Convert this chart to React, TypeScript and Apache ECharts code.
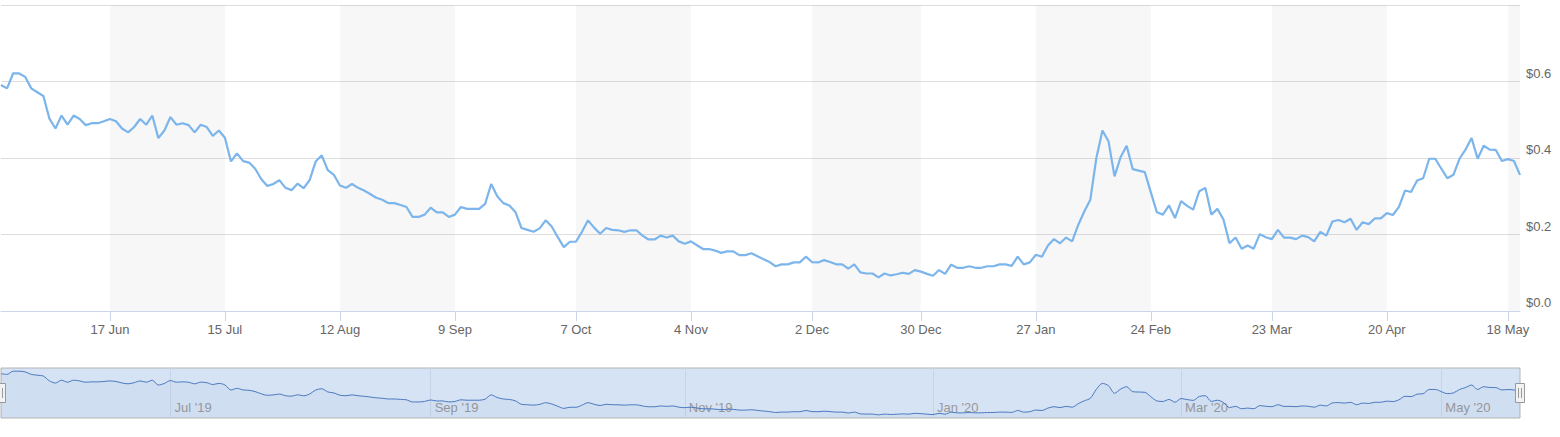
import React, { useEffect, useRef } from "react";
import * as echarts from "echarts";

// ---- data ----
const startDate = "2019-05-21";
const endDate = "2020-05-20";
// weekdays without a data point
const missingDays = [
  "2019-05-27", "2019-07-04", "2019-07-26", "2019-09-02", "2019-10-14",
  "2019-12-24", "2019-12-25", "2020-01-01", "2020-02-17", "2020-04-10",
];

const prices = [
  0.591, 0.582, 0.621, 0.621, 0.612, 0.582, 0.572, 0.562, 0.503, 0.477,
  0.511, 0.487, 0.511, 0.502, 0.486, 0.491, 0.491, 0.496, 0.502, 0.496,
  0.477, 0.467, 0.481, 0.502, 0.487, 0.511, 0.452, 0.472, 0.507, 0.487,
  0.491, 0.486, 0.467, 0.487, 0.481, 0.458, 0.472, 0.453, 0.391, 0.412,
  0.392, 0.388, 0.372, 0.345, 0.327, 0.332, 0.342, 0.322, 0.316, 0.333,
  0.321, 0.342, 0.391, 0.407, 0.368, 0.356, 0.328, 0.322, 0.332, 0.322,
  0.315, 0.306, 0.296, 0.291, 0.282, 0.282, 0.277, 0.272, 0.246, 0.246,
  0.252, 0.270, 0.258, 0.258, 0.246, 0.252, 0.272, 0.267, 0.267, 0.267,
  0.280, 0.332, 0.300, 0.282, 0.276, 0.259, 0.217, 0.212, 0.207, 0.216,
  0.237, 0.221, 0.193, 0.167, 0.181, 0.181, 0.207, 0.237, 0.218, 0.202,
  0.217, 0.212, 0.211, 0.207, 0.211, 0.211, 0.197, 0.187, 0.187, 0.197,
  0.192, 0.197, 0.182, 0.176, 0.182, 0.172, 0.162, 0.162, 0.158, 0.152,
  0.156, 0.156, 0.146, 0.146, 0.151, 0.143, 0.135, 0.128, 0.117, 0.122,
  0.122, 0.127, 0.127, 0.142, 0.128, 0.127, 0.133, 0.128, 0.122, 0.122,
  0.111, 0.122, 0.101, 0.098, 0.098, 0.088, 0.098, 0.093, 0.096, 0.100,
  0.097, 0.107, 0.103, 0.097, 0.092, 0.107, 0.097, 0.121, 0.113, 0.113,
  0.117, 0.113, 0.113, 0.117, 0.117, 0.122, 0.122, 0.118, 0.142, 0.122,
  0.127, 0.147, 0.142, 0.171, 0.188, 0.177, 0.192, 0.182, 0.225, 0.260,
  0.291, 0.400, 0.472, 0.444, 0.352, 0.402, 0.432, 0.371, 0.367, 0.363,
  0.310, 0.258, 0.252, 0.276, 0.243, 0.287, 0.275, 0.265, 0.313, 0.322,
  0.252, 0.267, 0.239, 0.177, 0.192, 0.163, 0.171, 0.163, 0.201, 0.193,
  0.188, 0.212, 0.192, 0.192, 0.188, 0.197, 0.193, 0.182, 0.207, 0.197,
  0.234, 0.238, 0.232, 0.241, 0.212, 0.232, 0.227, 0.242, 0.242, 0.256,
  0.251, 0.272, 0.315, 0.311, 0.341, 0.347, 0.398, 0.398, 0.372, 0.347,
  0.356, 0.398, 0.422, 0.452, 0.398, 0.432, 0.422, 0.421, 0.392, 0.397,
  0.392, 0.356,
];

const mainTickDates = [
  "2019-06-17", "2019-07-15", "2019-08-12", "2019-09-09", "2019-10-07",
  "2019-11-04", "2019-12-02", "2019-12-30", "2020-01-27", "2020-02-24",
  "2020-03-23", "2020-04-20", "2020-05-18",
];

const shadedBands = [
  ["2019-06-17", "2019-07-15"],
  ["2019-08-12", "2019-09-09"],
  ["2019-10-07", "2019-11-04"],
  ["2019-12-02", "2019-12-30"],
  ["2020-01-27", "2020-02-24"],
  ["2020-03-23", "2020-04-20"],
  ["2020-05-18", "2020-05-20"],
];

const navTickDates = [
  "2019-07-01", "2019-09-03", "2019-11-01", "2020-01-02", "2020-03-02", "2020-05-01",
];

const yMin = 0;
const yMax = 0.8;
const yStep = 0.2;

const MONTHS = ["Jan", "Feb", "Mar", "Apr", "May", "Jun", "Jul", "Aug", "Sep", "Oct", "Nov", "Dec"];
const FONT = '"Liberation Sans", Arial, Helvetica, sans-serif';

function tradingDays(): string[] {
  const out: string[] = [];
  const d = new Date(startDate + "T00:00:00Z");
  const end = new Date(endDate + "T00:00:00Z");
  while (d.getTime() <= end.getTime()) {
    const dow = d.getUTCDay();
    const s = d.toISOString().slice(0, 10);
    if (dow !== 0 && dow !== 6 && missingDays.indexOf(s) < 0) out.push(s);
    d.setUTCDate(d.getUTCDate() + 1);
  }
  return out;
}

export default function App() {
  const ref = useRef<HTMLDivElement>(null);

  useEffect(() => {
    if (!ref.current) return;
    const chart = echarts.init(ref.current, null, { renderer: "svg" });
    const dates = tradingDays();
    const mainSet = new Set(mainTickDates);
    const navSet = new Set(navTickDates);

    const fmtMain = (v: string) => `${parseInt(v.slice(8), 10)} ${MONTHS[parseInt(v.slice(5, 7), 10) - 1]}`;
    const fmtNav = (v: string) => `${MONTHS[parseInt(v.slice(5, 7), 10) - 1]} '${v.slice(2, 4)}`;

    const handle = (cx: number) => [
      {
        type: "rect",
        shape: { x: cx - 4.5, y: 383.5, width: 9, height: 19 },
        style: { fill: "#f2f2f2", stroke: "#999999", lineWidth: 1 },
        z: 100,
      },
      {
        type: "line",
        shape: { x1: cx - 1.5, y1: 388, x2: cx - 1.5, y2: 398 },
        style: { stroke: "#999999", lineWidth: 1 },
        z: 101,
      },
      {
        type: "line",
        shape: { x1: cx + 1.5, y1: 388, x2: cx + 1.5, y2: 398 },
        style: { stroke: "#999999", lineWidth: 1 },
        z: 101,
      },
    ];

    chart.setOption({
      animation: false,
      textStyle: { fontFamily: FONT },
      grid: [
        { left: 1, right: 40, top: 5, height: 306 },
        {
          left: 1, right: 40, top: 368, height: 50, show: true,
          backgroundColor: "#d6e3f5", borderColor: "#b5b5b5", borderWidth: 1,
        },
      ],
      xAxis: [
        {
          type: "category", gridIndex: 0, data: dates, boundaryGap: false,
          axisLine: { lineStyle: { color: "#ccd6eb", width: 1 } },
          axisTick: {
            show: true, length: 10,
            interval: (_i: number, v: string) => mainSet.has(v),
            lineStyle: { color: "#ccd6eb" },
          },
          axisLabel: {
            interval: (_i: number, v: string) => mainSet.has(v),
            formatter: fmtMain, color: "#666666", fontSize: 13, margin: 12, fontFamily: FONT,
          },
          splitLine: { show: false },
        },
        {
          type: "category", gridIndex: 1, data: dates, boundaryGap: false,
          axisLine: { show: false }, axisTick: { show: false },
          axisLabel: {
            inside: true,
            interval: (_i: number, v: string) => navSet.has(v),
            formatter: fmtNav, color: "#999999", fontSize: 13, align: "left",
            padding: [0, 0, 0, 4], margin: 4, fontFamily: FONT,
          },
          splitLine: {
            show: true,
            interval: (_i: number, v: string) => navSet.has(v),
            lineStyle: { color: "#c6d3e8" },
          },
        },
      ],
      yAxis: [
        {
          type: "value", gridIndex: 0, position: "right", min: yMin, max: yMax, interval: yStep,
          axisLine: { show: false }, axisTick: { show: false },
          axisLabel: {
            showMaxLabel: false,
            formatter: (v: number) => "$" + v.toFixed(1),
            color: "#666666", fontSize: 13, margin: 6, align: "left",
            verticalAlign: "bottom", padding: [0, 0, 2, 0], fontFamily: FONT,
          },
          splitLine: { lineStyle: { color: "#dedede" } },
        },
        { type: "value", gridIndex: 1, min: 0.05, max: 0.66, show: false },
      ],
      series: [
        {
          type: "line", xAxisIndex: 0, yAxisIndex: 0, data: prices,
          showSymbol: false, symbol: "none",
          lineStyle: { color: "#7cb5ec", width: 2.2 },
          itemStyle: { color: "#7cb5ec" },
          markArea: {
            silent: true,
            itemStyle: { color: "rgba(0,0,0,0.031)" },
            data: shadedBands.map(([a, b]) => [{ xAxis: a }, { xAxis: b }]),
          },
        },
        {
          type: "line", xAxisIndex: 1, yAxisIndex: 1, data: prices,
          showSymbol: false, symbol: "none", smooth: 0.3,
          lineStyle: { color: "#4a78be", width: 1 },
          areaStyle: { color: "rgba(51,92,173,0.05)" },
        },
      ],
      graphic: [...handle(1), ...handle(1520)],
    });

    return () => chart.dispose();
  }, []);

  return (
    <div
      ref={ref}
      style={{ position: "absolute", left: 0, top: 0, width: 1560, height: 437 }}
    />
  );
}
